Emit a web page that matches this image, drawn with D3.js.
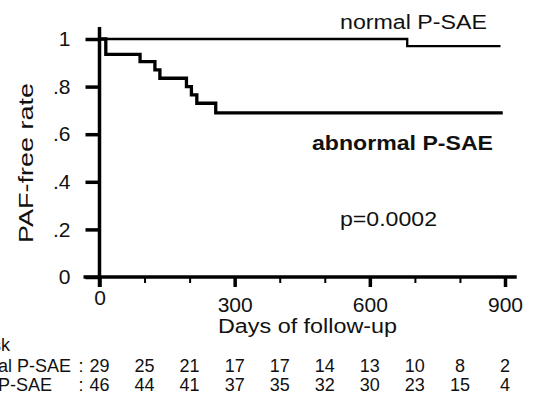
<!DOCTYPE html>
<html>
<head>
<meta charset="utf-8">
<script src="https://cdn.jsdelivr.net/npm/d3@7"></script>
<style>
  body { margin: 0; background: #fff; }
  svg { display: block; font-family: "Liberation Sans", Arial, sans-serif; }
</style>
</head>
<body>
<script>
"use strict";

// Kaplan-Meier steps (days, PAF-free rate)
let normalDays = [0, 683, 890];
let normalRate = [1, 0.97, 0.97];
let abnormalDays = [0, 14, 90, 123, 134, 193, 204, 216, 258, 895];
let abnormalRate = [1, 0.935, 0.905, 0.87, 0.835, 0.80, 0.765, 0.73, 0.69, 0.69];

let yTicks = [0, 0.2, 0.4, 0.6, 0.8, 1];
let xMajor = [0, 300, 600, 900];
let xMinor = [100, 200, 400, 500, 700, 800];

// numbers at risk
let riskDays = [0, 100, 200, 300, 400, 500, 600, 700, 800, 900];
let riskNormal = [29, 25, 21, 17, 17, 14, 13, 10, 8, 2];
let riskAbnormal = [46, 44, 41, 37, 35, 32, 30, 23, 15, 4];

(function() {

let width = 536, height = 406;
let font = '"Liberation Sans", Arial, sans-serif';

let svg = d3.select('body')
    .append('svg')
    .attr('width', width)
    .attr('height', height);

let x = d3.scaleLinear().domain([0, 900]).range([99.5, 505]);
let y = d3.scaleLinear().domain([0, 1]).range([277, 39]);

// y axis ticks + labels
let yAxis = svg.append('g')
    .attr('transform', 'translate(' + x(0) + ',0)')
    .call(d3.axisLeft(y)
        .tickValues(yTicks)
        .tickSize(14)
        .tickPadding(15)
        .tickFormat(function(d) {
            if (d === 0) return '0';
            if (d === 1) return '1';
            return '.' + Math.round(d * 10);
        }));
yAxis.select('.domain').remove();
yAxis.selectAll('line').attr('stroke', '#000').attr('stroke-width', 3.5);
yAxis.selectAll('text')
    .attr('font-size', 21)
    .attr('font-family', font)
    .attr('fill', '#111');

// x axis, minor ticks first
let xMinorAxis = svg.append('g')
    .attr('transform', 'translate(0,' + y(0) + ')')
    .call(d3.axisBottom(x).tickValues(xMinor).tickSize(6).tickFormat(''));
xMinorAxis.select('.domain').remove();
xMinorAxis.selectAll('line').attr('stroke', '#000').attr('stroke-width', 2);

let xAxis = svg.append('g')
    .attr('transform', 'translate(0,' + y(0) + ')')
    .call(d3.axisBottom(x).tickValues(xMajor).tickSize(10).tickPadding(10));
xAxis.select('.domain').remove();
xAxis.selectAll('line').attr('stroke', '#000').attr('stroke-width', 3.5);
xAxis.selectAll('text')
    .attr('font-size', 21)
    .attr('font-family', font)
    .attr('fill', '#111')
    .attr('dy', function(d) { return d === 0 ? '0.4em' : '0.71em'; });

// axis lines, a little past the last ticks
svg.append('line')
    .attr('x1', x(0)).attr('x2', x(0))
    .attr('y1', y(1.05)).attr('y2', y(0) + 10)
    .attr('stroke', '#000').attr('stroke-width', 3.5);
svg.append('line')
    .attr('x1', x(0) - 16).attr('x2', x(926))
    .attr('y1', y(0)).attr('y2', y(0))
    .attr('stroke', '#000').attr('stroke-width', 3.5);

// survival curves
let line = d3.line()
    .x(function(d) { return x(d[0]); })
    .y(function(d) { return y(d[1]); })
    .curve(d3.curveStepAfter);

svg.append('path')
    .datum(d3.zip(normalDays, normalRate))
    .attr('d', line)
    .attr('fill', 'none')
    .attr('stroke', '#000')
    .attr('stroke-width', 2.3);

svg.append('path')
    .datum(d3.zip(abnormalDays, abnormalRate))
    .attr('d', line)
    .attr('fill', 'none')
    .attr('stroke', '#000')
    .attr('stroke-width', 3.3);

// labels
svg.append('text')
    .attr('x', 340).attr('y', 29)
    .attr('font-size', 20)
    .attr('textLength', 147).attr('lengthAdjust', 'spacingAndGlyphs')
    .attr('fill', '#111')
    .text('normal P-SAE');

svg.append('text')
    .attr('x', 312).attr('y', 150)
    .attr('font-size', 20.5)
    .attr('font-weight', 'bold')
    .attr('textLength', 181).attr('lengthAdjust', 'spacingAndGlyphs')
    .attr('fill', '#111')
    .text('abnormal P-SAE');

svg.append('text')
    .attr('x', 340).attr('y', 226)
    .attr('font-size', 19.5)
    .attr('textLength', 97).attr('lengthAdjust', 'spacingAndGlyphs')
    .attr('fill', '#111')
    .text('p=0.0002');

svg.append('text')
    .attr('transform', 'translate(33,163) rotate(-90)')
    .attr('text-anchor', 'middle')
    .attr('font-size', 21)
    .attr('textLength', 160).attr('lengthAdjust', 'spacingAndGlyphs')
    .attr('fill', '#111')
    .text('PAF-free rate');

svg.append('text')
    .attr('x', 218).attr('y', 333)
    .attr('font-size', 20)
    .attr('textLength', 179).attr('lengthAdjust', 'spacingAndGlyphs')
    .attr('fill', '#111')
    .text('Days of follow-up');

// numbers at risk table (left part is cut off by the page edge, as in the source)
svg.append('text')
    .attr('x', 10).attr('y', 351)
    .attr('text-anchor', 'end')
    .attr('font-size', 18)
    .attr('fill', '#111')
    .text('Number at risk');

let rows = [
    {label: 'normal P-SAE', end: 71, base: 372, vals: riskNormal},
    {label: 'abnormal P-SAE', end: 52, base: 391, vals: riskAbnormal}
];

rows.forEach(function(r) {
    svg.append('text')
        .attr('x', r.end).attr('y', r.base)
        .attr('text-anchor', 'end')
        .attr('font-size', 18)
        .attr('fill', '#111')
        .text(r.label);
    svg.append('text')
        .attr('x', 81).attr('y', r.base)
        .attr('text-anchor', 'middle')
        .attr('font-size', 18)
        .attr('fill', '#111')
        .text(':');
    svg.selectAll(null)
        .data(d3.zip(riskDays, r.vals))
        .enter()
        .append('text')
        .attr('x', function(d) { return x(d[0]); })
        .attr('y', r.base)
        .attr('text-anchor', 'middle')
        .attr('font-size', 18)
        .attr('fill', '#111')
        .text(function(d) { return d[1]; });
});

})();
</script>
</body>
</html>
